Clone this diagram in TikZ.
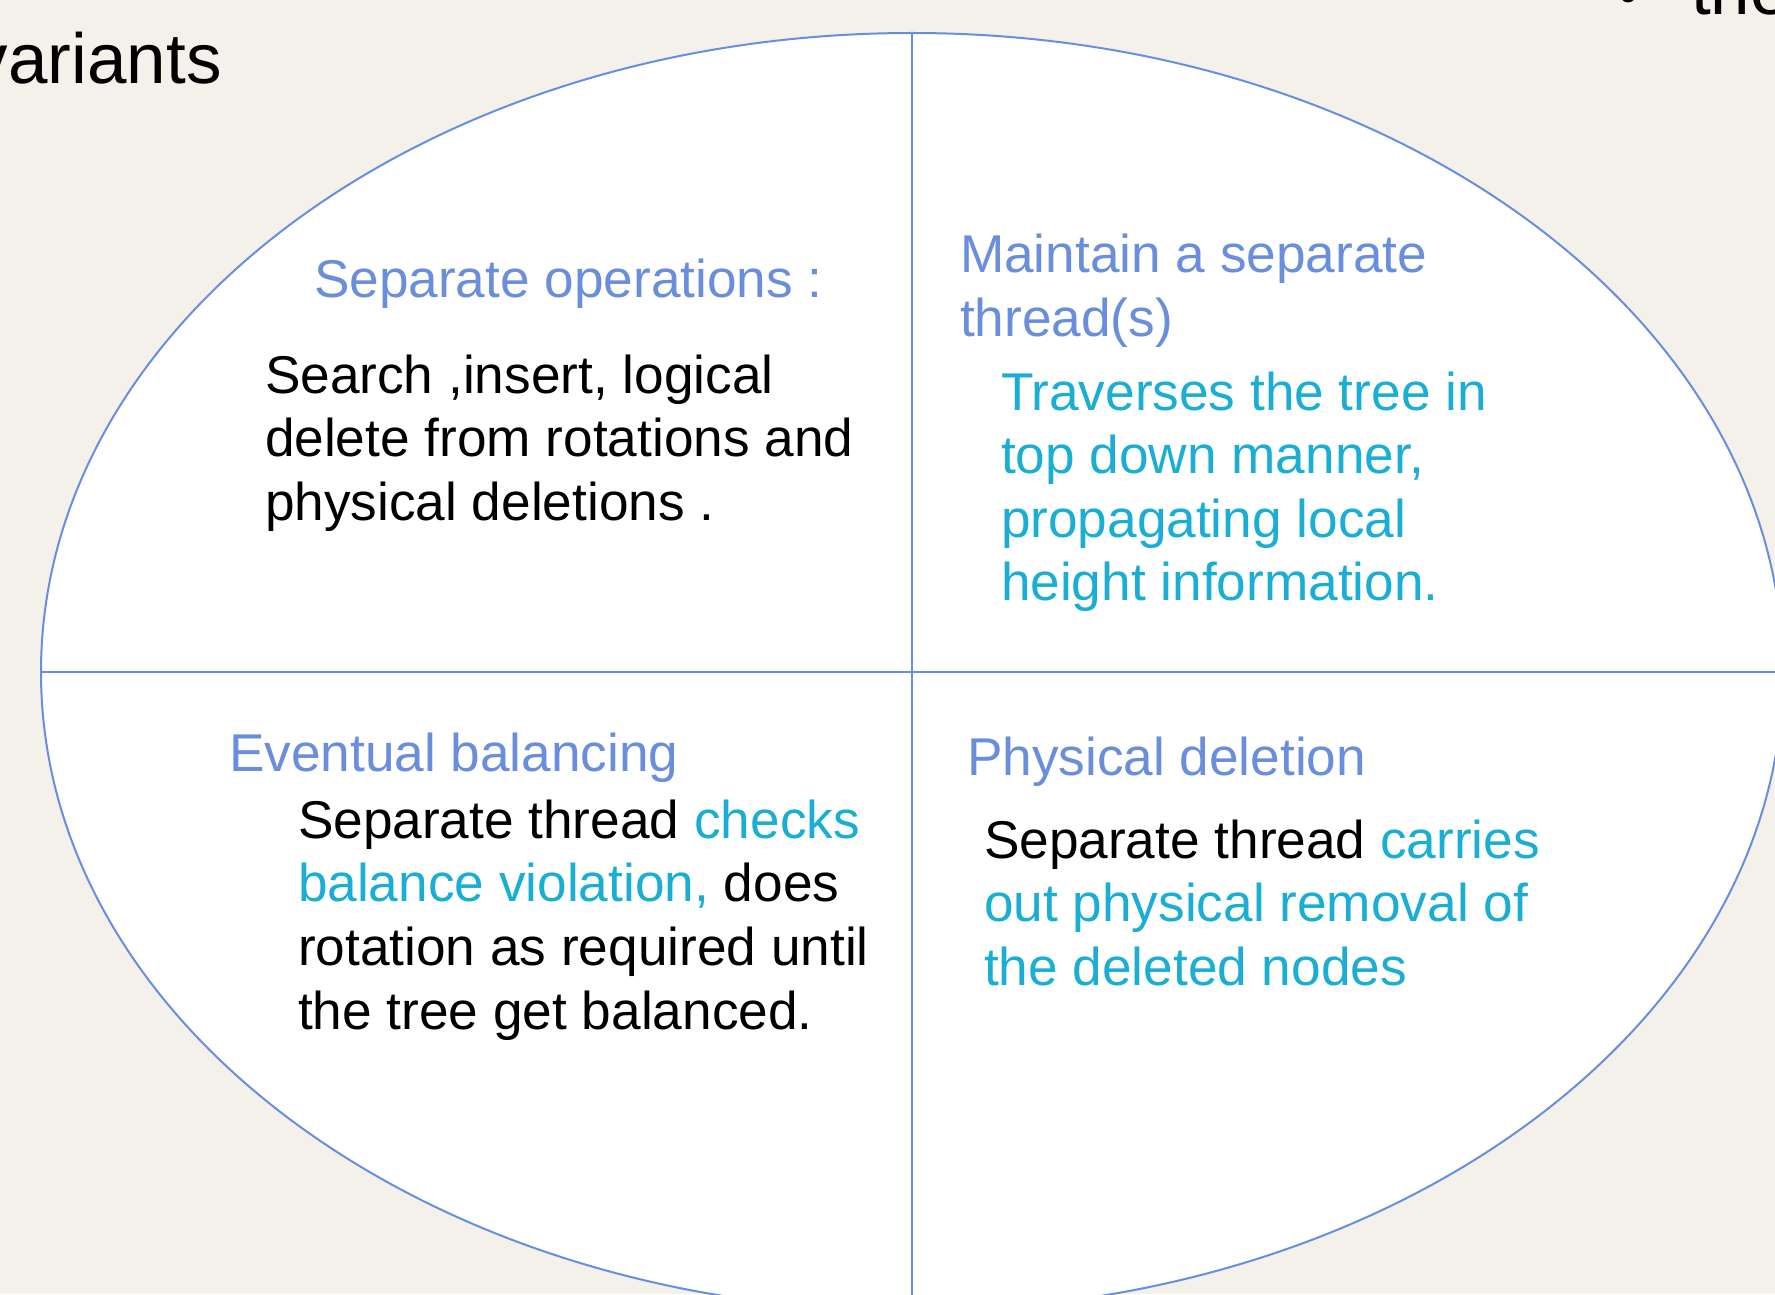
\documentclass[tikz,border=0pt]{standalone}
\usepackage{fontspec}
\setmainfont{Liberation Sans}
\definecolor{bgcol}{RGB}{243,241,234}
\definecolor{headblue}{RGB}{106,142,219}
\definecolor{cyantext}{RGB}{27,174,212}
\definecolor{linecol}{RGB}{105,142,222}
\tikzset{
  txt/.style={anchor=base west, inner sep=0pt, outer sep=0pt, font=\fontsize{26.6}{31.5}\selectfont},
  bigtxt/.style={anchor=base west, inner sep=0pt, outer sep=0pt, font=\fontsize{35.5}{42}\selectfont},
  head/.style={txt, text=headblue},
  cy/.style={txt, text=cyantext},
  divider/.style={draw=linecol, line width=0.8pt}
}
\begin{document}
\begin{tikzpicture}[x=0.5pt,y=-0.5pt]
\useasboundingbox (0,0) rectangle (1775,1294);
\clip (0,0) rectangle (1775,1294);
\fill[bgcol] (0,0) rectangle (1775,1294);

% background slide fragments
\node[bigtxt] (variants) at (-27,84) {variants};
\node[bigtxt] (the) at (1691,15) {the};
\fill[black] (1628,-5) circle[radius=7.5];

% ellipse
\coordinate (C) at (912,672);
\filldraw[fill=white, draw=linecol, line width=1pt] (C) ellipse [x radius=871, y radius=639];
\coordinate (vtop) at (912,33);
\coordinate (vbot) at (912,1300);
\coordinate (hleft) at (41,672);
\coordinate (hright) at (1780,672);
\draw[divider, line width=0.6pt] (vtop) -- (vbot);
\draw[divider] (hleft) -- (hright);

% quadrant 1: top left
\node[head] (h1) at (314,298) {Separate operations :};
\node[txt] (b1a) at (265,393) {Search ,insert, logical};
\node[txt] (b1b) at (265,456) {delete from rotations and};
\node[txt] (b1c) at (265,520) {physical deletions .};

% quadrant 2: top right
\node[head] (h2a) at (960,273) {Maintain a separate};
\node[head] (h2b) at (960,336) {thread(s)};
\node[cy] (b2a) at (1001,410) {Traverses the tree in};
\node[cy] (b2b) at (1001,473) {top down manner,};
\node[cy] (b2c) at (1001,537) {propagating local};
\node[cy] (b2d) at (1001,600) {height information.};

% quadrant 3: bottom left
\node[head] (h3) at (229,771) {Eventual balancing};
\node[txt] (b3a) at (298,838) {Separate thread \textcolor{cyantext}{checks}};
\node[txt] (b3b) at (298,901) {\textcolor{cyantext}{balance violation,} does};
\node[txt] (b3c) at (298,965) {rotation as required until};
\node[txt] (b3d) at (298,1029) {the tree get balanced.};

% quadrant 4: bottom right
\node[head] (h4) at (967,775) {Physical deletion};
\node[txt] (b4a) at (984,858) {Separate thread \textcolor{cyantext}{carries}};
\node[cy] (b4b) at (984,921) {out physical removal of};
\node[cy] (b4c) at (984,985) {the deleted nodes};
\end{tikzpicture}
\end{document}
